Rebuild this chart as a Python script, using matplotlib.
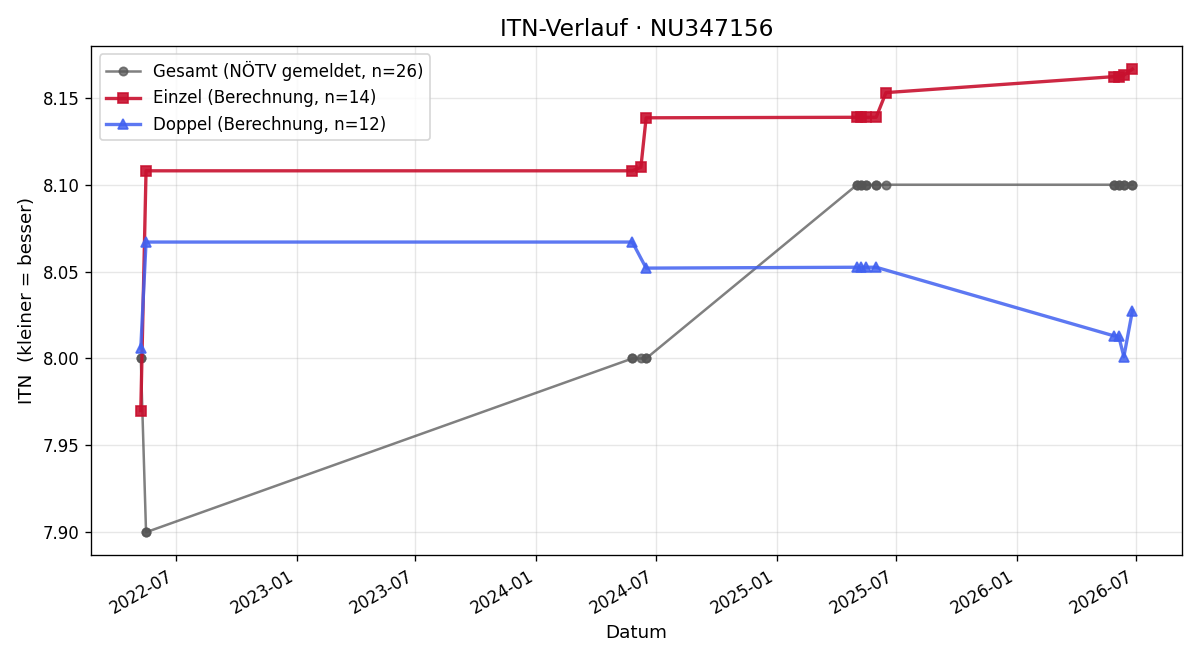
import matplotlib
matplotlib.use("Agg")
import matplotlib.pyplot as plt
import matplotlib.dates as mdates
import pandas as pd

einzel_dates = ["2022-05-09", "2022-05-17", "2024-05-26", "2024-06-08", "2024-06-16",
                "2025-05-03", "2025-05-09", "2025-05-17", "2025-06-01", "2025-06-16",
                "2026-05-29", "2026-06-05", "2026-06-13", "2026-06-26"]
einzel_vals = [7.970, 8.108, 8.108, 8.110, 8.1385,
               8.1388, 8.1388, 8.1388, 8.1388, 8.153,
               8.1622, 8.1622, 8.1630, 8.1665]

doppel_dates = ["2022-05-09", "2022-05-17", "2024-05-26", "2024-06-16",
                "2025-05-03", "2025-05-09", "2025-05-17", "2025-06-01",
                "2026-05-29", "2026-06-05", "2026-06-13", "2026-06-26"]
doppel_vals = [8.006, 8.067, 8.067, 8.052,
               8.0525, 8.0525, 8.0525, 8.0525,
               8.013, 8.013, 8.001, 8.0275]

gesamt_dates = ["2022-05-09", "2022-05-09", "2022-05-17", "2022-05-17",
                "2024-05-26", "2024-05-26", "2024-06-08", "2024-06-16", "2024-06-16",
                "2025-05-03", "2025-05-03", "2025-05-09", "2025-05-09", "2025-05-17", "2025-05-17",
                "2025-06-01", "2025-06-01", "2025-06-16",
                "2026-05-29", "2026-05-29", "2026-06-05", "2026-06-05", "2026-06-13", "2026-06-13",
                "2026-06-26", "2026-06-26"]
gesamt_vals = [8.00, 8.00, 7.90, 7.90,
               8.00, 8.00, 8.00, 8.00, 8.00,
               8.10, 8.10, 8.10, 8.10, 8.10, 8.10,
               8.10, 8.10, 8.10,
               8.10, 8.10, 8.10, 8.10, 8.10, 8.10,
               8.10, 8.10]

fig, ax = plt.subplots(figsize=(10, 5.5), dpi=120)

ax.plot(pd.to_datetime(gesamt_dates), gesamt_vals, color="#555555", alpha=0.75,
        marker="o", markersize=5, linewidth=1.5,
        label=f"Gesamt (NÖTV gemeldet, n={len(gesamt_vals)})")
ax.plot(pd.to_datetime(einzel_dates), einzel_vals, color="#c8102e", alpha=0.9,
        marker="s", markersize=6, linewidth=2,
        label=f"Einzel (Berechnung, n={len(einzel_vals)})")
ax.plot(pd.to_datetime(doppel_dates), doppel_vals, color="#4161f0", alpha=0.85,
        marker="^", markersize=6, linewidth=2,
        label=f"Doppel (Berechnung, n={len(doppel_vals)})")

ax.set_title("ITN-Verlauf · NU347156", fontsize=14)
ax.set_xlabel("Datum", fontsize=11)
ax.set_ylabel("ITN  (kleiner = besser)", fontsize=11)
ax.grid(True, alpha=0.3)
ax.xaxis.set_major_locator(mdates.MonthLocator(bymonth=[1, 7]))
ax.xaxis.set_major_formatter(mdates.DateFormatter("%Y-%m"))
fig.autofmt_xdate()
ax.legend(loc="upper left")
fig.tight_layout()
fig.savefig("out.png", dpi=120)
